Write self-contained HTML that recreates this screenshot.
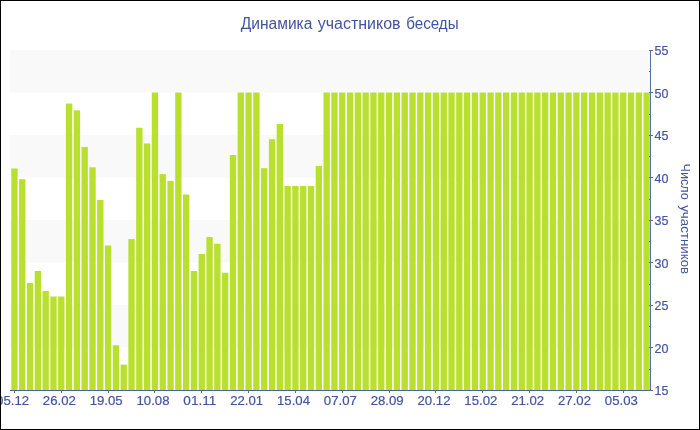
<!DOCTYPE html><html><head><meta charset="utf-8"><style>html,body{margin:0;padding:0;background:#fff;}svg{display:block;will-change:transform;}text{font-family:"Liberation Sans",sans-serif;}.lb{stroke:#42549e;stroke-width:0.18px;}</style></head><body>
<svg width="700" height="430" viewBox="0 0 700 430">
<rect x="0" y="0" width="700" height="430" fill="#fff"/>
<rect x="10.0" y="50.00" width="640.0" height="42.50" fill="#f9f9f9"/>
<rect x="10.0" y="135.00" width="640.0" height="42.50" fill="#f9f9f9"/>
<rect x="10.0" y="220.00" width="640.0" height="42.50" fill="#f9f9f9"/>
<rect x="10.0" y="305.00" width="640.0" height="42.50" fill="#f9f9f9"/>
<rect x="11.28" y="168.49" width="6.35" height="221.51" fill="#bae02f"/>
<rect x="19.08" y="179.20" width="6.35" height="210.80" fill="#bae02f"/>
<rect x="26.89" y="282.90" width="6.35" height="107.10" fill="#bae02f"/>
<rect x="34.69" y="271.00" width="6.35" height="119.00" fill="#bae02f"/>
<rect x="42.50" y="290.98" width="6.35" height="99.02" fill="#bae02f"/>
<rect x="50.30" y="296.50" width="6.35" height="93.50" fill="#bae02f"/>
<rect x="58.11" y="296.50" width="6.35" height="93.50" fill="#bae02f"/>
<rect x="65.91" y="103.55" width="6.35" height="286.45" fill="#bae02f"/>
<rect x="73.72" y="110.35" width="6.35" height="279.65" fill="#bae02f"/>
<rect x="81.52" y="146.90" width="6.35" height="243.10" fill="#bae02f"/>
<rect x="89.33" y="167.30" width="6.35" height="222.70" fill="#bae02f"/>
<rect x="97.13" y="199.94" width="6.35" height="190.06" fill="#bae02f"/>
<rect x="104.94" y="245.50" width="6.35" height="144.50" fill="#bae02f"/>
<rect x="112.74" y="345.20" width="6.35" height="44.80" fill="#bae02f"/>
<rect x="120.55" y="364.59" width="6.35" height="25.41" fill="#bae02f"/>
<rect x="128.35" y="239.04" width="6.35" height="150.96" fill="#bae02f"/>
<rect x="136.16" y="127.77" width="6.35" height="262.23" fill="#bae02f"/>
<rect x="143.96" y="143.50" width="6.35" height="246.50" fill="#bae02f"/>
<rect x="151.77" y="92.50" width="6.35" height="297.50" fill="#bae02f"/>
<rect x="159.57" y="174.10" width="6.35" height="215.90" fill="#bae02f"/>
<rect x="167.38" y="180.90" width="6.35" height="209.10" fill="#bae02f"/>
<rect x="175.18" y="92.50" width="6.35" height="297.50" fill="#bae02f"/>
<rect x="182.99" y="194.50" width="6.35" height="195.50" fill="#bae02f"/>
<rect x="190.79" y="271.00" width="6.35" height="119.00" fill="#bae02f"/>
<rect x="198.60" y="254.00" width="6.35" height="136.00" fill="#bae02f"/>
<rect x="206.40" y="237.00" width="6.35" height="153.00" fill="#bae02f"/>
<rect x="214.21" y="243.80" width="6.35" height="146.20" fill="#bae02f"/>
<rect x="222.01" y="272.70" width="6.35" height="117.30" fill="#bae02f"/>
<rect x="229.82" y="154.97" width="6.35" height="235.03" fill="#bae02f"/>
<rect x="237.62" y="92.50" width="6.35" height="297.50" fill="#bae02f"/>
<rect x="245.43" y="92.50" width="6.35" height="297.50" fill="#bae02f"/>
<rect x="253.23" y="92.50" width="6.35" height="297.50" fill="#bae02f"/>
<rect x="261.04" y="168.15" width="6.35" height="221.85" fill="#bae02f"/>
<rect x="268.84" y="139.25" width="6.35" height="250.75" fill="#bae02f"/>
<rect x="276.65" y="123.95" width="6.35" height="266.05" fill="#bae02f"/>
<rect x="284.45" y="186.00" width="6.35" height="204.00" fill="#bae02f"/>
<rect x="292.26" y="186.00" width="6.35" height="204.00" fill="#bae02f"/>
<rect x="300.06" y="186.00" width="6.35" height="204.00" fill="#bae02f"/>
<rect x="307.87" y="186.00" width="6.35" height="204.00" fill="#bae02f"/>
<rect x="315.67" y="165.94" width="6.35" height="224.06" fill="#bae02f"/>
<rect x="323.48" y="92.50" width="6.35" height="297.50" fill="#bae02f"/>
<rect x="331.28" y="92.50" width="6.35" height="297.50" fill="#bae02f"/>
<rect x="339.08" y="92.50" width="6.35" height="297.50" fill="#bae02f"/>
<rect x="346.89" y="92.50" width="6.35" height="297.50" fill="#bae02f"/>
<rect x="354.69" y="92.50" width="6.35" height="297.50" fill="#bae02f"/>
<rect x="362.50" y="92.50" width="6.35" height="297.50" fill="#bae02f"/>
<rect x="370.30" y="92.50" width="6.35" height="297.50" fill="#bae02f"/>
<rect x="378.11" y="92.50" width="6.35" height="297.50" fill="#bae02f"/>
<rect x="385.91" y="92.50" width="6.35" height="297.50" fill="#bae02f"/>
<rect x="393.72" y="92.50" width="6.35" height="297.50" fill="#bae02f"/>
<rect x="401.52" y="92.50" width="6.35" height="297.50" fill="#bae02f"/>
<rect x="409.33" y="92.50" width="6.35" height="297.50" fill="#bae02f"/>
<rect x="417.13" y="92.50" width="6.35" height="297.50" fill="#bae02f"/>
<rect x="424.94" y="92.50" width="6.35" height="297.50" fill="#bae02f"/>
<rect x="432.74" y="92.50" width="6.35" height="297.50" fill="#bae02f"/>
<rect x="440.55" y="92.50" width="6.35" height="297.50" fill="#bae02f"/>
<rect x="448.35" y="92.50" width="6.35" height="297.50" fill="#bae02f"/>
<rect x="456.16" y="92.50" width="6.35" height="297.50" fill="#bae02f"/>
<rect x="463.96" y="92.50" width="6.35" height="297.50" fill="#bae02f"/>
<rect x="471.77" y="92.50" width="6.35" height="297.50" fill="#bae02f"/>
<rect x="479.57" y="92.50" width="6.35" height="297.50" fill="#bae02f"/>
<rect x="487.38" y="92.50" width="6.35" height="297.50" fill="#bae02f"/>
<rect x="495.18" y="92.50" width="6.35" height="297.50" fill="#bae02f"/>
<rect x="502.99" y="92.50" width="6.35" height="297.50" fill="#bae02f"/>
<rect x="510.79" y="92.50" width="6.35" height="297.50" fill="#bae02f"/>
<rect x="518.60" y="92.50" width="6.35" height="297.50" fill="#bae02f"/>
<rect x="526.40" y="92.50" width="6.35" height="297.50" fill="#bae02f"/>
<rect x="534.21" y="92.50" width="6.35" height="297.50" fill="#bae02f"/>
<rect x="542.01" y="92.50" width="6.35" height="297.50" fill="#bae02f"/>
<rect x="549.82" y="92.50" width="6.35" height="297.50" fill="#bae02f"/>
<rect x="557.62" y="92.50" width="6.35" height="297.50" fill="#bae02f"/>
<rect x="565.43" y="92.50" width="6.35" height="297.50" fill="#bae02f"/>
<rect x="573.23" y="92.50" width="6.35" height="297.50" fill="#bae02f"/>
<rect x="581.04" y="92.50" width="6.35" height="297.50" fill="#bae02f"/>
<rect x="588.84" y="92.50" width="6.35" height="297.50" fill="#bae02f"/>
<rect x="596.65" y="92.50" width="6.35" height="297.50" fill="#bae02f"/>
<rect x="604.45" y="92.50" width="6.35" height="297.50" fill="#bae02f"/>
<rect x="612.26" y="92.50" width="6.35" height="297.50" fill="#bae02f"/>
<rect x="620.06" y="92.50" width="6.35" height="297.50" fill="#bae02f"/>
<rect x="627.87" y="92.50" width="6.35" height="297.50" fill="#bae02f"/>
<rect x="635.67" y="92.50" width="6.35" height="297.50" fill="#bae02f"/>
<rect x="643.48" y="92.50" width="6.35" height="297.50" fill="#bae02f"/>
<rect x="10.0" y="390" width="641.0" height="1" fill="#4a5fa8"/>
<rect x="650" y="50" width="1" height="341" fill="#5a6db2"/>
<rect x="649" y="390" width="1" height="1" fill="#6a6a6a"/>
<rect x="651" y="390" width="2" height="1" fill="#6a6a6a"/>
<text x="654.5" y="395.00" font-size="12.5" class="lb" fill="#42549e">15</text>
<rect x="649" y="369" width="1" height="1" fill="#6a6a6a"/>
<rect x="649" y="347" width="1" height="1" fill="#6a6a6a"/>
<rect x="651" y="347" width="2" height="1" fill="#6a6a6a"/>
<text x="654.5" y="352.50" font-size="12.5" class="lb" fill="#42549e">20</text>
<rect x="649" y="326" width="1" height="1" fill="#6a6a6a"/>
<rect x="649" y="305" width="1" height="1" fill="#6a6a6a"/>
<rect x="651" y="305" width="2" height="1" fill="#6a6a6a"/>
<text x="654.5" y="310.00" font-size="12.5" class="lb" fill="#42549e">25</text>
<rect x="649" y="284" width="1" height="1" fill="#6a6a6a"/>
<rect x="649" y="262" width="1" height="1" fill="#6a6a6a"/>
<rect x="651" y="262" width="2" height="1" fill="#6a6a6a"/>
<text x="654.5" y="267.50" font-size="12.5" class="lb" fill="#42549e">30</text>
<rect x="649" y="241" width="1" height="1" fill="#6a6a6a"/>
<rect x="649" y="220" width="1" height="1" fill="#6a6a6a"/>
<rect x="651" y="220" width="2" height="1" fill="#6a6a6a"/>
<text x="654.5" y="225.00" font-size="12.5" class="lb" fill="#42549e">35</text>
<rect x="649" y="199" width="1" height="1" fill="#6a6a6a"/>
<rect x="649" y="177" width="1" height="1" fill="#6a6a6a"/>
<rect x="651" y="177" width="2" height="1" fill="#6a6a6a"/>
<text x="654.5" y="182.50" font-size="12.5" class="lb" fill="#42549e">40</text>
<rect x="649" y="156" width="1" height="1" fill="#6a6a6a"/>
<rect x="649" y="135" width="1" height="1" fill="#6a6a6a"/>
<rect x="651" y="135" width="2" height="1" fill="#6a6a6a"/>
<text x="654.5" y="140.00" font-size="12.5" class="lb" fill="#42549e">45</text>
<rect x="649" y="114" width="1" height="1" fill="#6a6a6a"/>
<rect x="649" y="92" width="1" height="1" fill="#6a6a6a"/>
<rect x="651" y="92" width="2" height="1" fill="#6a6a6a"/>
<text x="654.5" y="97.50" font-size="12.5" class="lb" fill="#42549e">50</text>
<rect x="649" y="71" width="1" height="1" fill="#6a6a6a"/>
<rect x="649" y="50" width="1" height="1" fill="#6a6a6a"/>
<rect x="651" y="50" width="2" height="1" fill="#6a6a6a"/>
<text x="654.5" y="55.00" font-size="12.5" class="lb" fill="#42549e">55</text>
<rect x="14" y="390" width="1" height="3" fill="#6a6a6a"/>
<text x="12.55" y="405" font-size="12.5" text-anchor="middle" textLength="33.0" lengthAdjust="spacingAndGlyphs" class="lb" fill="#42549e">05.12</text>
<rect x="61" y="390" width="1" height="3" fill="#6a6a6a"/>
<text x="59.38" y="405" font-size="12.5" text-anchor="middle" textLength="33.0" lengthAdjust="spacingAndGlyphs" class="lb" fill="#42549e">26.02</text>
<rect x="108" y="390" width="1" height="3" fill="#6a6a6a"/>
<text x="106.21" y="405" font-size="12.5" text-anchor="middle" textLength="33.0" lengthAdjust="spacingAndGlyphs" class="lb" fill="#42549e">19.05</text>
<rect x="154" y="390" width="1" height="3" fill="#6a6a6a"/>
<text x="153.04" y="405" font-size="12.5" text-anchor="middle" textLength="33.0" lengthAdjust="spacingAndGlyphs" class="lb" fill="#42549e">10.08</text>
<rect x="201" y="390" width="1" height="3" fill="#6a6a6a"/>
<text x="199.87" y="405" font-size="12.5" text-anchor="middle" textLength="33.0" lengthAdjust="spacingAndGlyphs" class="lb" fill="#42549e">01.11</text>
<rect x="248" y="390" width="1" height="3" fill="#6a6a6a"/>
<text x="246.70" y="405" font-size="12.5" text-anchor="middle" textLength="33.0" lengthAdjust="spacingAndGlyphs" class="lb" fill="#42549e">22.01</text>
<rect x="295" y="390" width="1" height="3" fill="#6a6a6a"/>
<text x="293.53" y="405" font-size="12.5" text-anchor="middle" textLength="33.0" lengthAdjust="spacingAndGlyphs" class="lb" fill="#42549e">15.04</text>
<rect x="342" y="390" width="1" height="3" fill="#6a6a6a"/>
<text x="340.36" y="405" font-size="12.5" text-anchor="middle" textLength="33.0" lengthAdjust="spacingAndGlyphs" class="lb" fill="#42549e">07.07</text>
<rect x="389" y="390" width="1" height="3" fill="#6a6a6a"/>
<text x="387.19" y="405" font-size="12.5" text-anchor="middle" textLength="33.0" lengthAdjust="spacingAndGlyphs" class="lb" fill="#42549e">28.09</text>
<rect x="435" y="390" width="1" height="3" fill="#6a6a6a"/>
<text x="434.02" y="405" font-size="12.5" text-anchor="middle" textLength="33.0" lengthAdjust="spacingAndGlyphs" class="lb" fill="#42549e">20.12</text>
<rect x="482" y="390" width="1" height="3" fill="#6a6a6a"/>
<text x="480.85" y="405" font-size="12.5" text-anchor="middle" textLength="33.0" lengthAdjust="spacingAndGlyphs" class="lb" fill="#42549e">15.02</text>
<rect x="529" y="390" width="1" height="3" fill="#6a6a6a"/>
<text x="527.67" y="405" font-size="12.5" text-anchor="middle" textLength="33.0" lengthAdjust="spacingAndGlyphs" class="lb" fill="#42549e">21.02</text>
<rect x="576" y="390" width="1" height="3" fill="#6a6a6a"/>
<text x="574.50" y="405" font-size="12.5" text-anchor="middle" textLength="33.0" lengthAdjust="spacingAndGlyphs" class="lb" fill="#42549e">27.02</text>
<rect x="623" y="390" width="1" height="3" fill="#6a6a6a"/>
<text x="621.33" y="405" font-size="12.5" text-anchor="middle" textLength="33.0" lengthAdjust="spacingAndGlyphs" class="lb" fill="#42549e">05.03</text>
<text x="240.8" y="28.7" font-size="16" textLength="71.6" lengthAdjust="spacingAndGlyphs" fill="#42549e">Динамика</text>
<text x="317.8" y="28.7" font-size="16" textLength="82.8" lengthAdjust="spacingAndGlyphs" fill="#42549e">участников</text>
<text x="406.2" y="28.7" font-size="16" textLength="52.4" lengthAdjust="spacingAndGlyphs" fill="#42549e">беседы</text>
<text transform="translate(681,0) rotate(90)" x="163.6" y="0" font-size="12.3" textLength="36.2" lengthAdjust="spacingAndGlyphs" fill="#42549e">Число</text>
<text transform="translate(681,0) rotate(90)" x="205.2" y="0" font-size="12.3" textLength="69.0" lengthAdjust="spacingAndGlyphs" fill="#42549e">участников</text>
<rect x="0.5" y="0.5" width="699" height="429" fill="none" stroke="#000" stroke-width="1"/>
</svg></body></html>
